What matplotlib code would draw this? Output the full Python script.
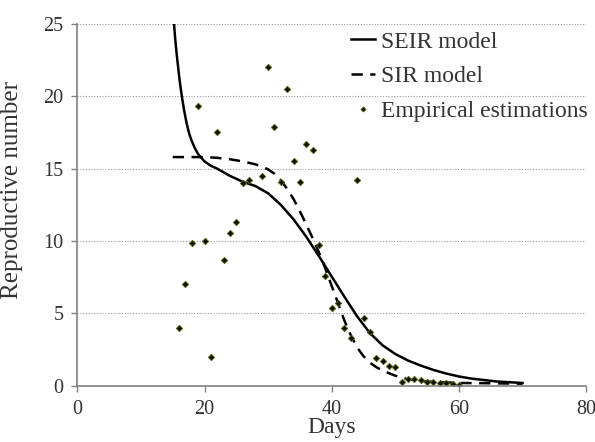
import matplotlib.pyplot as plt

plt.rcParams["font.family"] = ["Liberation Serif", "DejaVu Serif"]

# empirical estimations (day, R)
emp_days = [16, 17, 18, 19, 20, 21, 22, 23, 24, 25, 26, 27, 29, 30, 31, 32, 33,
            34, 35, 36, 37, 38, 39, 40, 41, 42, 43, 44, 45, 46, 47, 48, 49, 50,
            51, 52, 53, 54, 55, 56, 57, 58, 59, 60]
emp_r = [4.0, 7.05, 9.9, 19.3, 10.0, 2.0, 17.5, 8.67, 10.55, 11.3, 14.0, 14.2,
         14.5, 22.0, 17.9, 14.1, 20.5, 15.5, 14.1, 16.7, 16.3, 9.7, 7.6, 5.4,
         5.7, 4.0, 3.3, 14.2, 4.7, 3.7, 1.9, 1.7, 1.4, 1.3,
         0.25, 0.44, 0.48, 0.4, 0.25, 0.25, 0.18, 0.2, 0.12, 0.08]

# SEIR model curve
seir_days = [15.2, 15.4, 15.6, 15.8, 16.0, 16.2, 16.5, 16.8, 17.2, 17.6, 18.0,
             18.5, 19.0, 20.0, 21.0, 22.0, 24.0, 26.0, 28.0, 30.0, 32.0, 34.0,
             36.0, 38.0, 40.0, 42.0, 44.0, 46.0, 48.0, 50.0, 52.0, 54.0, 56.0,
             58.0, 60.0, 62.0, 64.0, 66.0, 68.0, 70.0]
seir_r = [25.0, 23.9, 23.0, 22.2, 21.4, 20.7, 19.8, 19.0, 18.1, 17.4, 16.9,
          16.4, 16.0, 15.5, 15.2, 15.0, 14.5, 14.1, 13.8, 13.3, 12.5, 11.5,
          10.3, 8.95, 7.55, 6.15, 4.8, 3.65, 2.8, 2.2, 1.75, 1.4, 1.1,
          0.85, 0.65, 0.5, 0.4, 0.3, 0.25, 0.2]

# SIR model curve
sir_days = [15, 18, 20, 22, 24, 26, 28, 29, 30, 31, 32, 33, 34, 35, 36, 37, 38,
            39, 40, 41, 42, 43, 44, 45, 46, 47, 48, 50, 52, 55, 60, 65, 70]
sir_r = [15.8, 15.8, 15.8, 15.75, 15.65, 15.5, 15.3, 15.15, 14.95, 14.65,
         14.2, 13.6, 12.9, 12.05, 11.15, 10.2, 9.2, 8.1, 6.9, 5.7, 4.5, 3.5,
         2.65, 2.05, 1.6, 1.3, 1.05, 0.7, 0.45, 0.3, 0.2, 0.18, 0.15]

fig = plt.figure(figsize=(5.95, 4.42), dpi=100)
ax = fig.add_axes([0.130, 0.127, 0.855, 0.819])

ax.plot(seir_days, seir_r, "-", color="black", lw=1.8, label="SEIR model")
ax.plot(sir_days, sir_r, color="black", lw=1.8, dashes=(4.5, 3), label="SIR model")
ax.plot(emp_days, emp_r, "D", ms=3.3, mfc="#111100", mec="#5a6b10", mew=0.6,
        label="Empirical estimations")

ax.set_xlim(0, 80)
ax.set_ylim(0, 25)
ax.set_xticks([0, 20, 40, 60, 80])
ax.set_yticks([0, 5, 10, 15, 20, 25])
ax.yaxis.grid(True, color="#999999", lw=0.8, ls=(0, (1, 1.5)))
ax.set_axisbelow(True)

for s in ["top", "right"]:
    ax.spines[s].set_visible(False)
for s in ["left", "bottom"]:
    ax.spines[s].set_color("#808080")
    ax.spines[s].set_linewidth(1.2)
ax.tick_params(colors="#808080", labelcolor="#333333", labelsize=14.5,
               length=4, width=1.0)
ax.tick_params(axis="y", pad=6)
ax.tick_params(axis="x", pad=6)

ax.set_xlabel("Days", fontsize=17, color="#333333", labelpad=-1)
ax.set_ylabel("Reproductive number", fontsize=18, color="#333333")
ax.yaxis.set_label_coords(-0.107, 0.54)

ax.legend(loc="upper right", bbox_to_anchor=(588 / 595, 1 - 31 / 442),
          bbox_transform=fig.transFigure, borderaxespad=0, borderpad=0,
          frameon=False, fontsize=17, handlelength=1.05, handletextpad=0.25,
          labelspacing=0.56, markerscale=0.8, labelcolor="#333333")

fig.savefig("out.png", dpi=100)
